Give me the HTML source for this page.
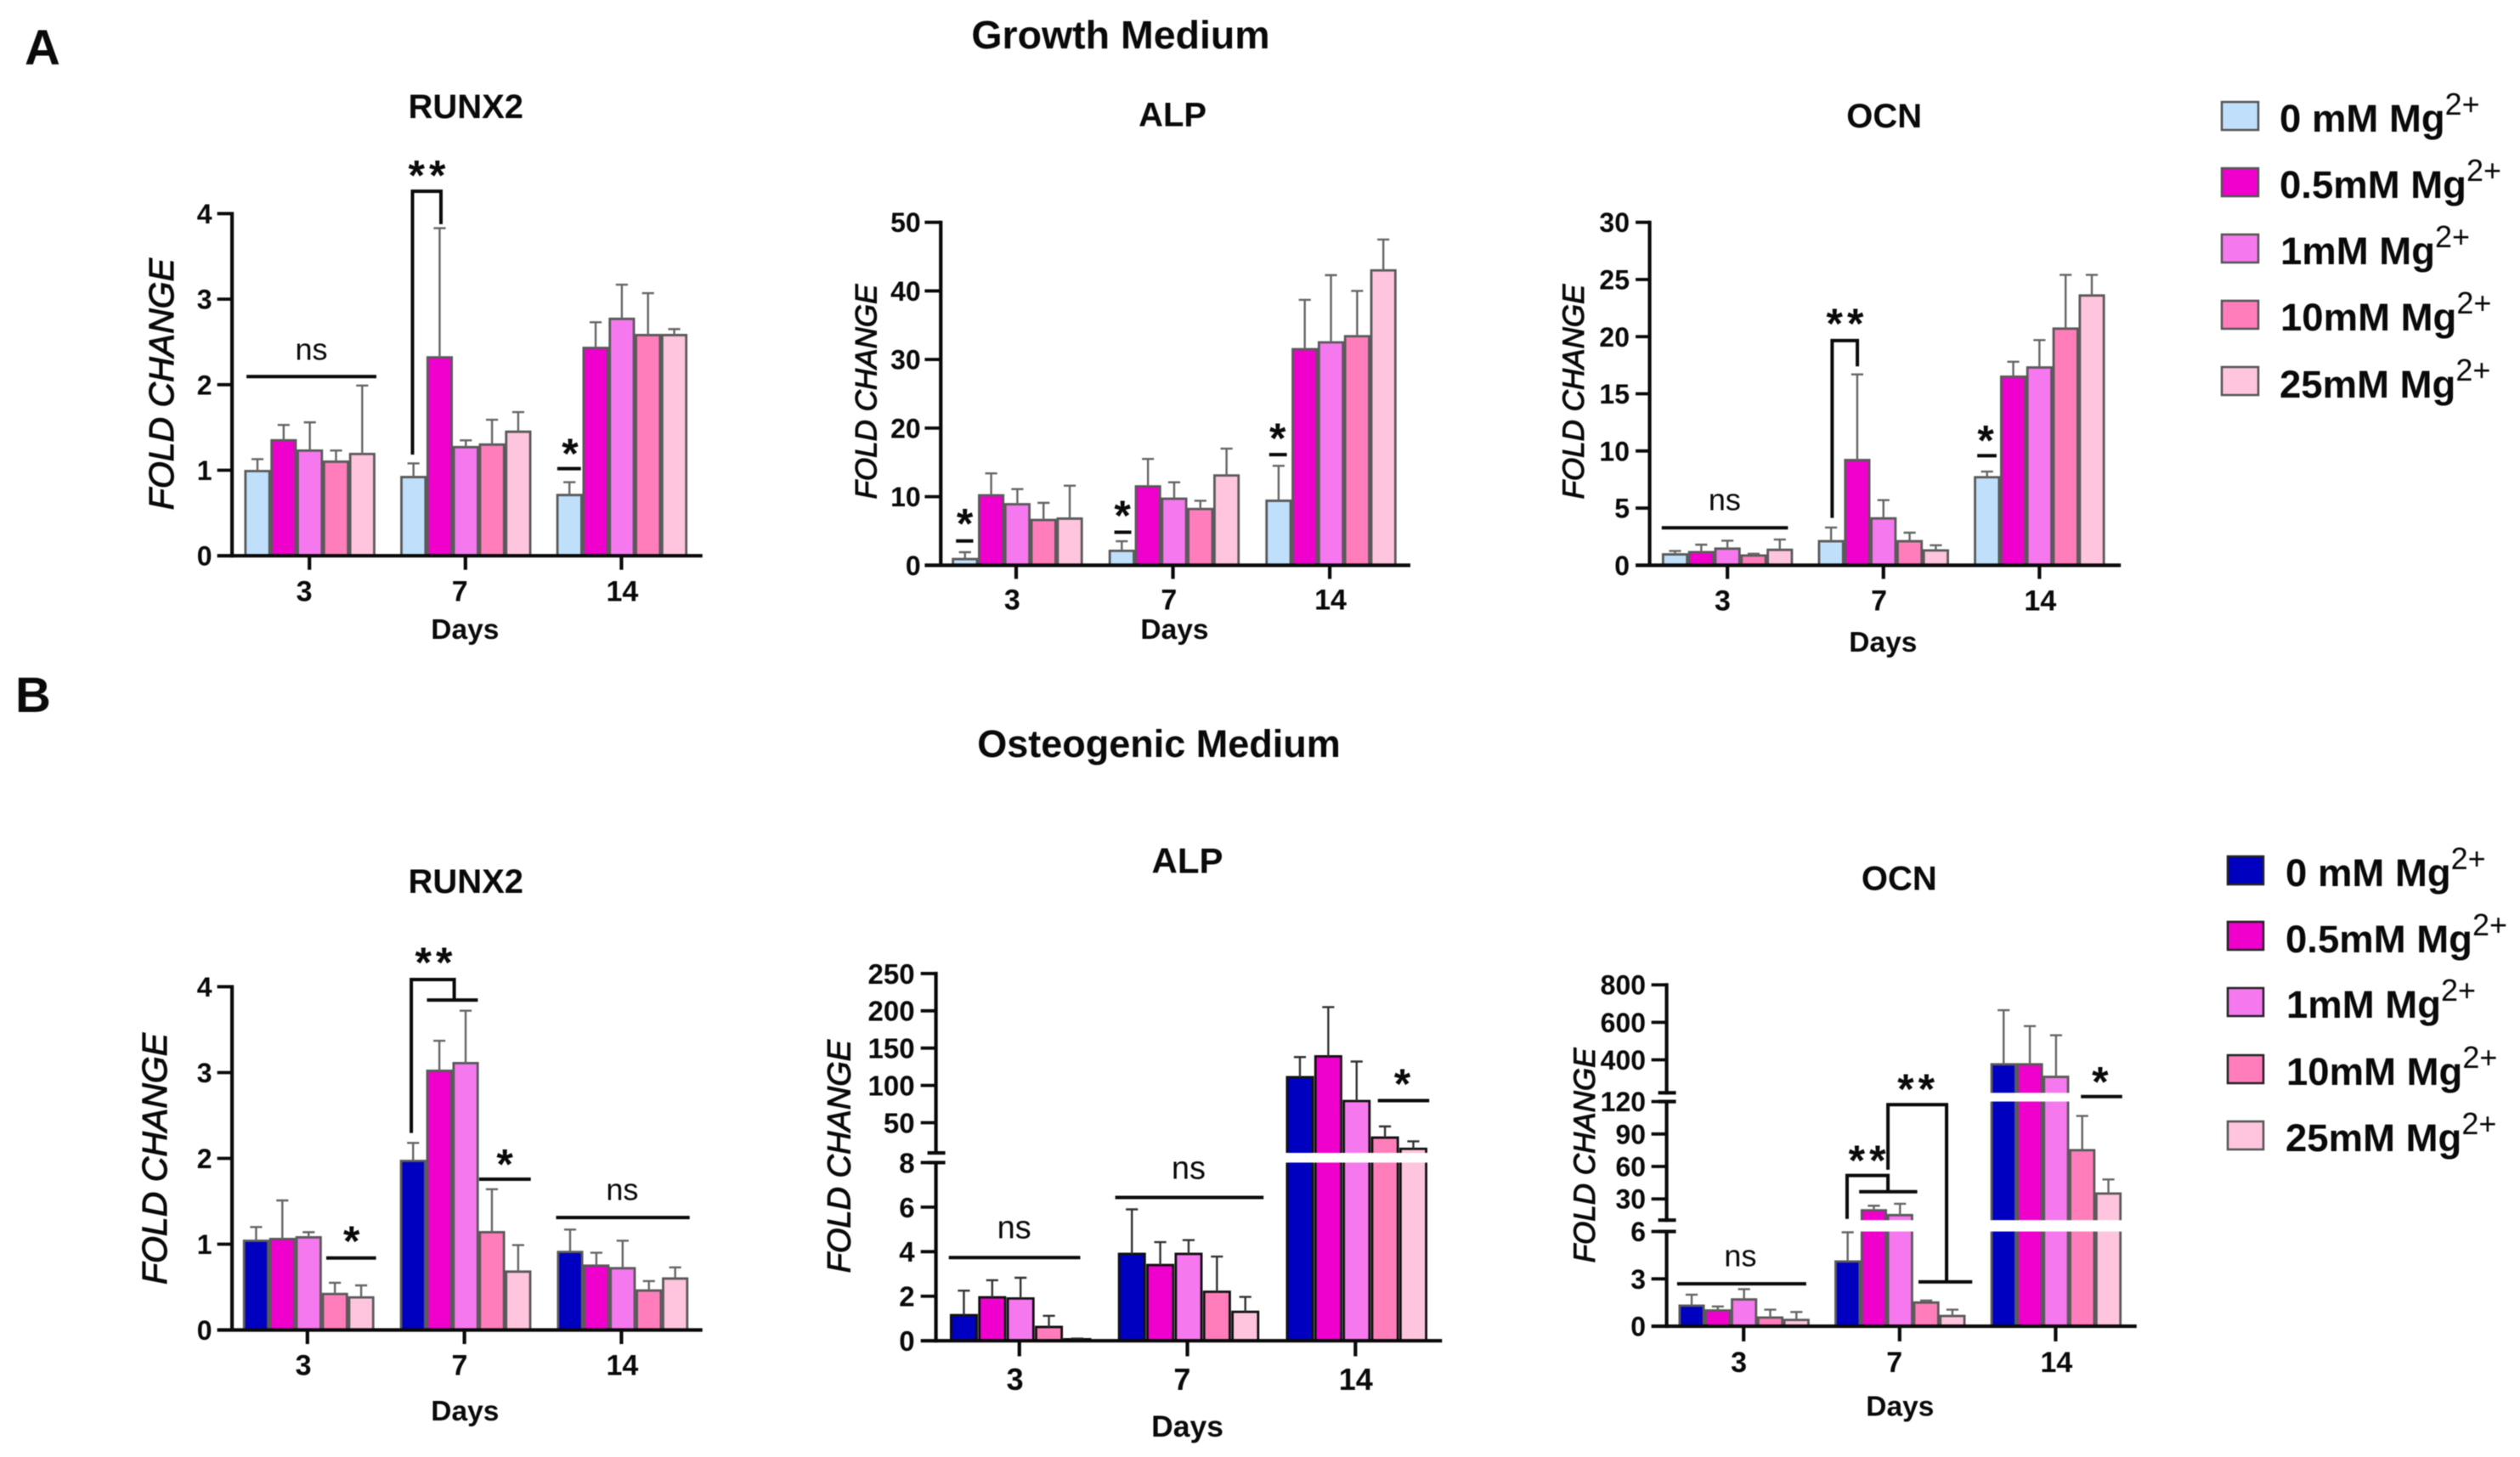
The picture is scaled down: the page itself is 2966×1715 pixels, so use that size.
<!DOCTYPE html>
<html lang="en">
<head>
<meta charset="utf-8">
<title>Fold change of RUNX2, ALP and OCN in growth and osteogenic media</title>
<style>
  html, body { margin: 0; padding: 0; background: #fff; }
  svg { display: block; filter: blur(0.6px); }
  text { font-family: "Liberation Sans", Arial, sans-serif; fill: #0a0a0a; }
  .bold { font-weight: bold; }
</style>
</head>
<body>
<svg id="figure" xmlns="http://www.w3.org/2000/svg" width="2966" height="1715" viewBox="0 0 2966 1715">
  <rect x="0" y="0" width="2966" height="1715" fill="#ffffff"/>
  <text class="bold" x="29" y="76" font-size="58">A</text>
  <text class="bold" x="18" y="838" font-size="58">B</text>
  <text class="bold" x="1319" y="57" font-size="46.5" text-anchor="middle">Growth Medium</text>
  <text class="bold" x="1364" y="891" font-size="45" text-anchor="middle">Osteogenic Medium</text>

  <g stroke-width="0">
    <g>
      <rect x="2615" y="120" width="43" height="33" fill="#BFDFFB" stroke="#555" stroke-width="2.5"/>
      <text class="bold" x="2683" y="155" font-size="45.5">0 mM Mg<tspan dy="-20" font-size="36" font-weight="normal">2+</tspan></text>
    </g>
    <g>
      <rect x="2615" y="198" width="43" height="33" fill="#F000CC" stroke="#555" stroke-width="2.5"/>
      <text class="bold" x="2683" y="233" font-size="45.5">0.5mM Mg<tspan dy="-20" font-size="36" font-weight="normal">2+</tspan></text>
    </g>
    <g>
      <rect x="2615" y="276" width="43" height="33" fill="#F578EE" stroke="#555" stroke-width="2.5"/>
      <text class="bold" x="2684" y="311" font-size="45.5">1mM Mg<tspan dy="-20" font-size="36" font-weight="normal">2+</tspan></text>
    </g>
    <g>
      <rect x="2615" y="354" width="43" height="33" fill="#FF7DBA" stroke="#555" stroke-width="2.5"/>
      <text class="bold" x="2684" y="389" font-size="45.5">10mM Mg<tspan dy="-20" font-size="36" font-weight="normal">2+</tspan></text>
    </g>
    <g>
      <rect x="2615" y="432" width="43" height="33" fill="#FFC4DE" stroke="#555" stroke-width="2.5"/>
      <text class="bold" x="2683" y="468" font-size="45.5">25mM Mg<tspan dy="-20" font-size="36" font-weight="normal">2+</tspan></text>
    </g>
  </g>

  <g stroke-width="0">
    <g>
      <rect x="2622" y="1008" width="42" height="33" fill="#0000C0" stroke="#222" stroke-width="2.5"/>
      <text class="bold" x="2690" y="1043" font-size="45.5">0 mM Mg<tspan dy="-20" font-size="36" font-weight="normal">2+</tspan></text>
    </g>
    <g>
      <rect x="2622" y="1085" width="42" height="33" fill="#F000CC" stroke="#222" stroke-width="2.5"/>
      <text class="bold" x="2690" y="1121" font-size="45.5">0.5mM Mg<tspan dy="-20" font-size="36" font-weight="normal">2+</tspan></text>
    </g>
    <g>
      <rect x="2622" y="1163" width="42" height="33" fill="#F578EE" stroke="#222" stroke-width="2.5"/>
      <text class="bold" x="2691" y="1198" font-size="45.5">1mM Mg<tspan dy="-20" font-size="36" font-weight="normal">2+</tspan></text>
    </g>
    <g>
      <rect x="2622" y="1242" width="42" height="33" fill="#FF7DBA" stroke="#222" stroke-width="2.5"/>
      <text class="bold" x="2691" y="1277" font-size="45.5">10mM Mg<tspan dy="-20" font-size="36" font-weight="normal">2+</tspan></text>
    </g>
    <g>
      <rect x="2622" y="1320" width="42" height="33" fill="#FFC4DE" stroke="#555" stroke-width="2.5"/>
      <text class="bold" x="2690" y="1355" font-size="45.5">25mM Mg<tspan dy="-20" font-size="36" font-weight="normal">2+</tspan></text>
    </g>
  </g>
</svg>

<script>
// ---- Data: each array is [day 3, day 7, day 14], each day holds 5 Mg2+ doses ----
const categories = ['3', '7', '14'];
const doses = ['0 mM', '0.5 mM', '1 mM', '10 mM', '25 mM'];

const growthColors = ['#BFDFFB', '#F000CC', '#F578EE', '#FF7DBA', '#FFC4DE'];
const osteoColors = ['#0000C0', '#F000CC', '#F578EE', '#FF7DBA', '#FFC4DE'];

const growthRunx2Values = [[0.99, 1.35, 1.23, 1.10, 1.19], [0.92, 2.32, 1.27, 1.30, 1.45], [0.71, 2.43, 2.77, 2.58, 2.58]];
const growthRunx2ErrTops = [[1.13, 1.53, 1.56, 1.23, 1.99], [1.08, 3.83, 1.35, 1.59, 1.68], [0.86, 2.73, 3.17, 3.07, 2.65]];
const growthRunx2Ticks = [0, 1, 2, 3, 4];

const growthAlpValues = [[0.9, 10.2, 8.9, 6.6, 6.8], [2.1, 11.5, 9.7, 8.2, 13.1], [9.4, 31.5, 32.5, 33.4, 43.0]];
const growthAlpErrTops = [[1.9, 13.4, 11.1, 9.1, 11.6], [3.5, 15.5, 12.1, 9.4, 17.0], [14.5, 38.7, 42.3, 40.0, 47.5]];
const growthAlpTicks = [0, 10, 20, 30, 40, 50];

const growthOcnValues = [[0.95, 1.15, 1.45, 0.85, 1.35], [2.1, 9.2, 4.1, 2.1, 1.3], [7.7, 16.5, 17.3, 20.7, 23.6]];
const growthOcnErrTops = [[1.25, 1.8, 2.15, 1.0, 2.25], [3.3, 16.7, 5.7, 2.85, 1.75], [8.2, 17.8, 19.7, 25.4, 25.4]];
const growthOcnTicks = [0, 5, 10, 15, 20, 25, 30];

const osteoRunx2Values = [[1.04, 1.06, 1.08, 0.42, 0.38], [1.97, 3.02, 3.11, 1.14, 0.68], [0.91, 0.75, 0.72, 0.46, 0.60]];
const osteoRunx2ErrTops = [[1.20, 1.51, 1.14, 0.55, 0.52], [2.18, 3.37, 3.72, 1.64, 0.99], [1.17, 0.90, 1.04, 0.57, 0.73]];
const osteoRunx2Ticks = [0, 1, 2, 3, 4];

const osteoAlpValues = [[1.15, 1.95, 1.9, 0.62, 0.07], [3.9, 3.4, 3.9, 2.2, 1.3], [111, 139, 79, 30, 15]];
const osteoAlpErrTops = [[2.25, 2.72, 2.83, 1.12, 0.1], [5.9, 4.43, 4.52, 3.78, 1.97], [138, 205, 132, 45, 25]];
const osteoAlpTicks = [0, 2, 4, 6, 8, 50, 100, 150, 200, 250];

const osteoOcnValues = [[1.3, 1.0, 1.7, 0.55, 0.4], [4.1, 19.5, 15, 1.5, 0.65], [376, 376, 309, 75, 35]];
const osteoOcnErrTops = [[2.0, 1.25, 2.35, 1.05, 0.9], [5.95, 23.7, 25.5, 1.63, 1.05], [665, 580, 531, 106.7, 48]];
const osteoOcnTicks = [0, 3, 6, 30, 60, 90, 120, 400, 600, 800];

// ---- Layout ----
const KX = 0.472;
const AXIS_W = 4.2;
const NS = 'http://www.w3.org/2000/svg';
const svg = document.getElementById('figure');

function mk(tag, attrs, parent) {
  const e = document.createElementNS(NS, tag);
  for (const k in attrs) e.setAttribute(k, attrs[k]);
  parent.appendChild(e);
  return e;
}

const panelDefs = [
  { id: 'growth-runx2', title: 'RUNX2', values: growthRunx2Values, errs: growthRunx2ErrTops, ticks: growthRunx2Ticks, colors: growthColors,
    ox: 140, oy: 90, ky: 0.446, axisZ: 282, leftZ: 245, rightZ: 1455, cat0: 475, catStep: 389, shift: 1, pitch: 65.3, barW: 60, tickBottom: 1302,
    segs: [{ lo: 0, hi: 4, zb: 1265, zt: 362 }], labelZ: 232, tickFont: 32, catFont: 34, catY: 1358, catDx: [-13, -14, 2],
    titleX: 865, titleY: 78, titleFont: 40, daysX: 863, daysY: 1458, daysFont: 33.5, yTitleX: 105, yTitleY: 812, yTitleFont: 41, stroke: '#5a5a5a', errStroke: '#666' },
  { id: 'growth-alp', title: 'ALP', values: growthAlpValues, errs: growthAlpErrTops, ticks: growthAlpTicks, colors: growthColors,
    ox: 960, oy: 90, ky: 0.446, axisZ: 312, leftZ: 272, rightZ: 1483, cat0: 500, catStep: 391, shift: 3, pitch: 65.3, barW: 60, tickBottom: 1326,
    segs: [{ lo: 0, hi: 50, zb: 1290, zt: 385 }], labelZ: 262, tickFont: 32, catFont: 34, catY: 1380, catDx: [-10, -10, 2],
    titleX: 890, titleY: 100, titleFont: 40, daysX: 895, daysY: 1458, daysFont: 33.5, yTitleX: 125, yTitleY: 832, yTitleFont: 35, stroke: '#5a5a5a', errStroke: '#666' },
  { id: 'growth-ocn', title: 'OCN', values: growthOcnValues, errs: growthOcnErrTops, ticks: growthOcnTicks, colors: growthColors,
    ox: 1800, oy: 90, ky: 0.446, axisZ: 300, leftZ: 265, rightZ: 1475, cat0: 494, catStep: 389, shift: 0, pitch: 65.3, barW: 60, tickBottom: 1326,
    segs: [{ lo: 0, hi: 30, zb: 1290, zt: 385 }], labelZ: 250, tickFont: 32, catFont: 34, catY: 1382, catDx: [-12, -11, 2],
    titleX: 885, titleY: 103, titleFont: 40, daysX: 882, daysY: 1492, daysFont: 33.5, yTitleX: 110, yTitleY: 832, yTitleFont: 35, stroke: '#5a5a5a', errStroke: '#666' },
  { id: 'osteogenic-runx2', title: 'RUNX2', values: osteoRunx2Values, errs: osteoRunx2ErrTops, ticks: osteoRunx2Ticks, colors: osteoColors,
    ox: 140, oy: 1000, ky: 0.446, axisZ: 282, leftZ: 245, rightZ: 1455, cat0: 470, catStep: 391.5, shift: 3, pitch: 65.5, barW: 60, tickBottom: 1305,
    segs: [{ lo: 0, hi: 4, zb: 1268, zt: 362 }], labelZ: 232, tickFont: 32, catFont: 34, catY: 1360, catDx: [-10, -12, 2],
    titleX: 865, titleY: 83, titleFont: 40, daysX: 863, daysY: 1480, daysFont: 33.5, yTitleX: 88, yTitleY: 816, yTitleFont: 41, stroke: '#5a5a5a', errStroke: '#666' },
  { id: 'osteogenic-alp', title: 'ALP', values: osteoAlpValues, errs: osteoAlpErrTops, ticks: osteoAlpTicks, colors: osteoColors,
    ox: 960, oy: 1000, ky: 0.456, axisZ: 300, leftZ: 262, rightZ: 1562, cat0: 508, catStep: 419, shift: 3, pitch: 70.7, barW: 64, tickBottom: 1308,
    segs: [{ lo: 0, hi: 8, zb: 1268, zt: 808 }, { lo: 9.5, hi: 250, zb: 783, zt: 320 }], labelZ: 247, tickFont: 33, catFont: 36, catY: 1367, catDx: [-11, -13, 1],
    titleX: 927, titleY: 28, titleFont: 42, daysX: 927, daysY: 1488, daysFont: 35.5, yTitleX: 58, yTitleY: 792, yTitleFont: 38, stroke: '#111', errStroke: '#333' },
  { id: 'osteogenic-ocn', title: 'OCN', values: osteoOcnValues, errs: osteoOcnErrTops, ticks: osteoOcnTicks, colors: osteoColors,
    ox: 1820, oy: 1000, ky: 0.446, axisZ: 300, leftZ: 262, rightZ: 1472, cat0: 492, catStep: 389, shift: 1, pitch: 65.3, barW: 60, tickBottom: 1298,
    segs: [{ lo: 0, hi: 6, zb: 1258, zt: 1008 }, { lo: 10.4, hi: 120, zb: 978, zt: 665 }, { lo: 224, hi: 800, zb: 642, zt: 357 }], labelZ: 248, tickFont: 32, catFont: 34, catY: 1352, catDx: [-12, -13, 2],
    titleX: 880, titleY: 75, titleFont: 40, daysX: 882, daysY: 1468, daysFont: 33.5, yTitleX: 95, yTitleY: 807, yTitleFont: 35, stroke: '#5a5a5a', errStroke: '#666' }
];

// Axis functions: zoom-space layout -> page pixels, value -> vertical position
function px(p, z) { return p.ox + z * KX; }
function py(p, z) { return p.oy + z * p.ky; }
function valueZ(p, v) {
  for (const s of p.segs) {
    if (v <= s.hi) {
      const c = Math.max(v, s.lo);
      return s.zb + (c - s.lo) / (s.hi - s.lo) * (s.zt - s.zb);
    }
  }
  return p.segs[p.segs.length - 1].zt;
}
function yScale(p, v) { return py(p, valueZ(p, v)); }
function catZ(p, c) { return p.cat0 + c * p.catStep; }
function barZ(p, c, d) { return catZ(p, c) + p.shift + (d - 2) * p.pitch; }

function drawLine(p, g, pts) {
  const s = pts.map(function (q) { return px(p, q[0]).toFixed(1) + ',' + py(p, q[1]).toFixed(1); }).join(' ');
  return mk('polyline', { points: s, fill: 'none', stroke: '#0a0a0a', 'stroke-width': 4 }, g);
}
function drawStars(p, g, zx, zy, label) {
  const fs = 50;
  const t = mk('text', { x: px(p, zx) + (label.length > 1 ? 2.5 : 0), y: py(p, zy) + 0.56 * fs - 4, 'font-size': fs, 'font-weight': 'bold', 'text-anchor': 'middle', 'letter-spacing': label.length > 1 ? 5 : 0 }, g);
  t.textContent = label;
  return t;
}
function drawNs(p, g, zx, zy, fs) {
  const t = mk('text', { x: px(p, zx), y: py(p, zy), 'font-size': fs, 'text-anchor': 'middle', fill: '#222' }, g);
  t.textContent = 'ns';
  return t;
}

const panelGroups = {};

panelDefs.forEach(function (p) {
  const g = mk('g', {}, svg);
  
  
  panelGroups[p.id] = g;

  const title = mk('text', { x: px(p, p.titleX), y: py(p, p.titleY) + 0.35 * p.titleFont, 'font-size': p.titleFont, 'font-weight': 'bold', 'text-anchor': 'middle' }, g);
  title.textContent = p.title;
  
  

  // Bars
  const barsG = mk('g', {}, g);
  
  
  p.values.forEach(function (dayVals, c) {
    dayVals.forEach(function (v, d) {
      const cz = barZ(p, c, d);
      const xl = px(p, cz - p.barW / 2);
      const xr = px(p, cz + p.barW / 2);
      const barG = mk('g', {}, barsG);
      
      
      p.segs.forEach(function (s) {
        if (v <= s.lo && s.lo !== 0) return;
        const top = Math.min(v, s.hi);
        const terminal = v <= s.hi;
        const yb = py(p, s.zb);
        const yt = yScale(p, top);
        mk('rect', { x: xl, y: yt, width: xr - xl, height: Math.max(yb - yt, 0), fill: p.colors[d] }, barG);
        const path = terminal
          ? 'M' + xl + ' ' + yb + 'V' + yt + 'H' + xr + 'V' + yb
          : 'M' + xl + ' ' + yb + 'V' + yt + 'M' + xr + ' ' + yt + 'V' + yb;
        mk('path', { d: path, fill: 'none', stroke: p.stroke, 'stroke-width': 2.8 }, barG);
      });
      // Error bar
      const xm = px(p, cz);
      const yv = yScale(p, v);
      const ye = yScale(p, p.errs[c][d]);
      const capHalf = 15 * KX;
      const err = mk('path', { d: 'M' + xm + ' ' + yv + 'V' + ye + 'M' + (xm - capHalf) + ' ' + ye + 'H' + (xm + capHalf), fill: 'none', stroke: p.errStroke, 'stroke-width': 2.4 }, barG);
      
      
    });
  });

  // Y axis (one spine per segment, with break marks between them)
  const yAxis = mk('g', {}, g);
  
  
  const axisX = px(p, p.axisZ);
  p.segs.forEach(function (s, i) {
    mk('line', { x1: axisX, x2: axisX, y1: py(p, s.zb) + 2, y2: py(p, s.zt) - 2, stroke: '#0a0a0a', 'stroke-width': AXIS_W }, yAxis);
    if (i > 0) mk('line', { x1: axisX - 10, x2: axisX + 11, y1: py(p, s.zb), y2: py(p, s.zb), stroke: '#0a0a0a', 'stroke-width': AXIS_W }, yAxis);
    if (i < p.segs.length - 1) mk('line', { x1: axisX - 10, x2: axisX + 11, y1: py(p, s.zt), y2: py(p, s.zt), stroke: '#0a0a0a', 'stroke-width': AXIS_W }, yAxis);
  });
  p.ticks.forEach(function (v) {
    const y = yScale(p, v);
    if (v !== 0) mk('line', { x1: px(p, p.leftZ), x2: axisX, y1: y, y2: y, stroke: '#0a0a0a', 'stroke-width': AXIS_W - 0.4 }, yAxis);
    const lab = mk('text', { x: px(p, p.labelZ), y: y + 0.36 * p.tickFont, 'font-size': p.tickFont, 'font-weight': 'bold', 'text-anchor': 'end' }, yAxis);
    lab.textContent = String(v);
    
    
  });

  const yTitle = mk('text', { transform: 'translate(' + px(p, p.yTitleX) + ',' + py(p, p.yTitleY) + ') rotate(-90)', y: 0.35 * p.yTitleFont, 'font-size': p.yTitleFont, 'font-style': 'italic', 'text-anchor': 'middle', stroke: '#0a0a0a', 'stroke-width': 1 }, g);
  yTitle.textContent = 'FOLD CHANGE';
  
  

  // X axis
  const xAxis = mk('g', {}, g);
  
  
  const y0 = yScale(p, 0);
  mk('line', { x1: px(p, p.leftZ), x2: px(p, p.rightZ), y1: y0, y2: y0, stroke: '#0a0a0a', 'stroke-width': AXIS_W }, xAxis);
  categories.forEach(function (cat, c) {
    const x = px(p, catZ(p, c));
    mk('line', { x1: x, x2: x, y1: y0, y2: py(p, p.tickBottom), stroke: '#0a0a0a', 'stroke-width': AXIS_W }, xAxis);
    const lab = mk('text', { x: px(p, catZ(p, c) + p.catDx[c]), y: py(p, p.catY) + 0.35 * p.catFont, 'font-size': p.catFont, 'font-weight': 'bold', 'text-anchor': 'middle' }, xAxis);
    lab.textContent = cat;
    
    
  });
  const days = mk('text', { x: px(p, p.daysX), y: py(p, p.daysY) + 0.35 * p.daysFont, 'font-size': p.daysFont, 'font-weight': 'bold', 'text-anchor': 'middle' }, g);
  days.textContent = 'Days';
  
  
});

// ---- Significance annotations ----
function annotate(id, fn) {
  const p = panelDefs.find(function (q) { return q.id === id; });
  const g = mk('g', {}, panelGroups[id]);
  
  
  fn(p, g);
}

annotate('growth-runx2', function (p, g) {
  drawLine(p, g, [[318, 792], [642, 792]]);
  drawNs(p, g, 480, 748, 36);
  drawLine(p, g, [[732, 998], [732, 303], [803, 303], [803, 390]]);
  drawStars(p, g, 768, 245, '**');
  drawLine(p, g, [[1093, 1035], [1152, 1035]]);
  drawStars(p, g, 1125, 980, '*');
});
annotate('growth-alp', function (p, g) {
  drawLine(p, g, [[350, 1226], [393, 1226]]);
  drawStars(p, g, 372, 1165, '*');
  drawLine(p, g, [[745, 1203], [787, 1203]]);
  drawStars(p, g, 765, 1143, '*');
  drawLine(p, g, [[1131, 998], [1175, 998]]);
  drawStars(p, g, 1152, 940, '*');
});
annotate('growth-ocn', function (p, g) {
  drawLine(p, g, [[330, 1191], [645, 1191]]);
  drawNs(p, g, 487, 1145, 36);
  drawLine(p, g, [[755, 1165], [755, 697], [818, 697], [818, 765]]);
  drawStars(p, g, 787, 637, '**');
  drawLine(p, g, [[1117, 1001], [1165, 1001]]);
  drawStars(p, g, 1138, 945, '*');
});
annotate('osteogenic-runx2', function (p, g) {
  drawStars(p, g, 785, 283, '**');
  drawLine(p, g, [[729, 748], [729, 343], [836, 343], [836, 397]]);
  drawLine(p, g, [[768, 397], [895, 397]]);
  drawStars(p, g, 962, 815, '*');
  drawLine(p, g, [[898, 870], [1027, 870]]);
  drawStars(p, g, 580, 1018, '*');
  drawNs(p, g, 1255, 925, 36);
  drawLine(p, g, [[517, 1078], [641, 1078]]);
  drawLine(p, g, [[1090, 971], [1423, 971]]);
});
annotate('osteogenic-alp', function (p, g) {
  drawNs(p, g, 495, 1003, 38);
  drawLine(p, g, [[332, 1053], [660, 1053]]);
  drawNs(p, g, 930, 850, 38);
  drawLine(p, g, [[747, 898], [1117, 898]]);
  drawStars(p, g, 1463, 590, '*');
  drawLine(p, g, [[1402, 648], [1530, 648]]);
});
annotate('osteogenic-ocn', function (p, g) {
  drawNs(p, g, 484, 1100, 36);
  drawLine(p, g, [[326, 1146], [648, 1146]]);
  drawStars(p, g, 800, 805, '**');
  drawLine(p, g, [[750, 975], [750, 860], [852, 860], [852, 903]]);
  drawLine(p, g, [[780, 903], [925, 903]]);
  drawStars(p, g, 922, 617, '**');
  drawLine(p, g, [[852, 845], [852, 673], [998, 673], [998, 1141]]);
  drawLine(p, g, [[928, 1141], [1062, 1141]]);
  drawStars(p, g, 1381, 597, '*');
  drawLine(p, g, [[1333, 652], [1436, 652]]);
});
</script>
</body>
</html>
